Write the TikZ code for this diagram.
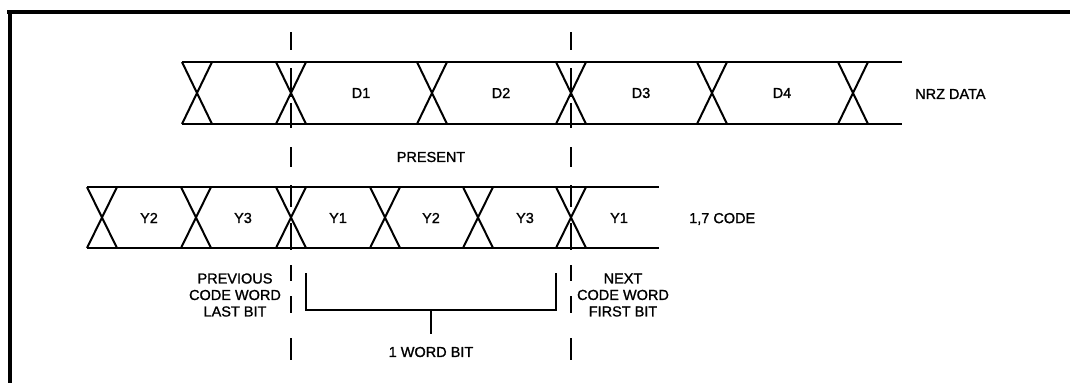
\documentclass[tikz,border=0pt]{standalone}
\usepackage{fontspec}
\setmainfont{Liberation Sans}[FakeBold=1.2]
\begin{document}
\begin{tikzpicture}[x=1pt,y=-1pt,
  band/.style={line width=1.7pt},
  xline/.style={line width=2pt},
  guide/.style={line width=1.3pt},
  bracket/.style={line width=1.4pt},
  lbl/.style={font=\fontsize{14.5}{16.5}\selectfont, inner sep=0pt, align=center},
  frame/.style={line width=4pt}]
\useasboundingbox (0,0) rectangle (1070,383);
% frame
\draw[frame] (7,12) -- (1070,12);
\draw[frame] (9.5,10) -- (9.5,383);
% NRZ data band
\draw[band] (182,62) -- (902,62);
\draw[band] (182,124) -- (902,124);
\foreach \x in {197,291,432,571,712,853}
  \draw[xline] (\x-15,62) -- (\x+15,124) (\x+15,62) -- (\x-15,124);
% 1,7 code band
\draw[band] (87,187) -- (659,187);
\draw[band] (87,248) -- (659,248);
\foreach \x in {102,196,291,385,478,571}
  \draw[xline] (\x-15,187) -- (\x+15,248) (\x+15,187) -- (\x-15,248);
% dashed guides
\foreach \x in {291,571}
  \foreach \a/\b in {32/50,68/97,103/128,147/167,185/207,223/250,265/281,296/313,338/360}
    \draw[guide] (\x,\a) -- (\x,\b);
% labels
\node[lbl] (d1) at (361,93) {D1};
\node[lbl] (d2) at (501,93) {D2};
\node[lbl] (d3) at (641,93) {D3};
\node[lbl] (d4) at (782,93) {D4};
\node[lbl, anchor=west] (nrz) at (915,94) {NRZ DATA};
\node[lbl] (present) at (431,157) {PRESENT};
\node[lbl] (y2a) at (149,218) {Y2};
\node[lbl] (y3a) at (243,218) {Y3};
\node[lbl] (y1a) at (338,218) {Y1};
\node[lbl] (y2b) at (431,218) {Y2};
\node[lbl] (y3b) at (525,218) {Y3};
\node[lbl] (y1b) at (619,218) {Y1};
\node[lbl, anchor=west] (code) at (689,219) {1,7 CODE};
\node[lbl] (prev) at (235,295) {PREVIOUS\\CODE WORD\\LAST BIT};
\node[lbl] (next) at (623,295) {NEXT\\CODE WORD\\FIRST BIT};
\node[lbl] (word) at (431,352) {1 WORD BIT};
% bracket
\coordinate (bl) at (306,273);
\coordinate (br) at (556,273);
\coordinate (bm) at (431,310);
\draw[bracket] (bl) |- (bm) -| (br);
\draw[bracket] (bm) -- (word.north |- 0,334);
\end{tikzpicture}
\end{document}
